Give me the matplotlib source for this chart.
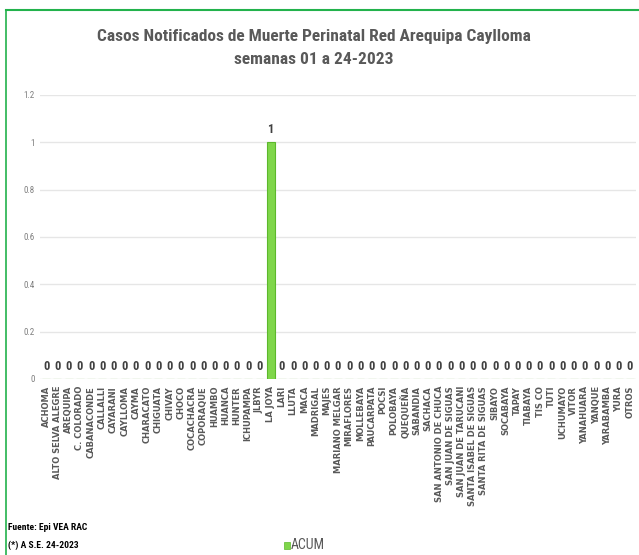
import matplotlib
matplotlib.use("Agg")
import matplotlib.pyplot as plt
from matplotlib.patches import Rectangle

categories = ["ACHOMA", "ALTO SELVA ALEGRE", "AREQUIPA", "C. COLORADO", "CABANACONDE",
              "CALLALLI", "CAYARANI", "CAYLLOMA", "CAYMA", "CHARACATO", "CHIGUATA",
              "CHIVAY", "CHOCO", "COCACHACRA", "COPORAQUE", "HUAMBO", "HUANCA", "HUNTER",
              "ICHUPAMPA", "JLBYR", "LA JOYA", "LARI", "LLUTA", "MACA", "MADRIGAL", "MAJES",
              "MARIANO MELGAR", "MIRAFLORES", "MOLLEBAYA", "PAUCARPATA", "POCSI", "POLOBAYA",
              "QUEQUEÑA", "SABANDIA", "SACHACA", "SAN ANTONIO DE CHUCA", "SAN JUAN DE SIGUAS",
              "SAN JUAN DE TARUCANI", "SANTA ISABEL DE SIGUAS", "SANTA RITA DE SIGUAS",
              "SIBAYO", "SOCABAYA", "TAPAY", "TIABAYA", "TIS CO", "TUTI", "UCHUMAYO", "VITOR",
              "YANAHUARA", "YANQUE", "YARABAMBA", "YURA", "OTROS"]
acum = [0] * 20 + [1] + [0] * 32
yticks = [0, 0.2, 0.4, 0.6, 0.8, 1, 1.2]
ytick_labels = ["0", "0.2", "0.4", "0.6", "0.8", "1", "1.2"]

narrow = ["Roboto Condensed", "DejaVu Sans"]

fig = plt.figure(figsize=(6.39, 5.55), dpi=100)
ax = fig.add_axes([40/639, 1-379/555, 596/639, 284/555])

x = list(range(len(categories)))
ax.bar(x, acum, width=0.7, color="#7FD64A", edgecolor="#5CB82C", linewidth=0.8, zorder=3)
for xi, v in zip(x, acum):
    ax.text(xi, v + 0.025, f"{v}", ha="center", va="bottom", fontsize=9,
            family=narrow, color="#404040", fontweight="bold")

ax.set_ylim(0, 1.2)
ax.set_xlim(-0.55, len(categories) - 0.45)
ax.set_yticks(yticks)
ax.set_yticklabels(ytick_labels, family=narrow, fontsize=6.5, color="#7F7F7F")
ax.set_xticks(x)
ax.set_xticklabels(categories, rotation=90, fontsize=6.0, fontweight="bold",
                   color="#595959", family="DejaVu Sans")
ax.tick_params(axis="both", length=0, pad=4)
ax.tick_params(axis="x", pad=5)
ax.grid(axis="y", color="#E6E6E6", linewidth=1, zorder=0)
for s in ax.spines.values():
    s.set_visible(False)

fig.text(314/639, 1-36/555, "Casos Notificados de Muerte Perinatal Red Arequipa Caylloma",
         ha="center", va="center", fontsize=12.5, family=narrow, color="#595959", fontweight="bold")
fig.text(314/639, 1-60/555, "semanas 01 a 24-2023",
         ha="center", va="center", fontsize=12.5, family=narrow, color="#595959", fontweight="bold")

fig.text(8/639, 1-528/555, "Fuente: Epi VEA RAC", ha="left", va="center", fontsize=6.8,
         family=narrow, color="#000000", fontweight="bold")
fig.text(8/639, 1-545/555, "(*) A S.E. 24-2023", ha="left", va="center", fontsize=6.8,
         family=narrow, color="#000000", fontweight="bold")

fig.patches.append(Rectangle((284/639, 1-549/555), 6/639, 7/555, transform=fig.transFigure,
                             facecolor="#7FD64A", edgecolor="#5CB82C", linewidth=0.5))
fig.text(291/639, 1-545/555, "ACUM", ha="left", va="center", fontsize=10,
         family=narrow, color="#595959")

# green frame (top and left)
fig.add_artist(plt.Line2D([6/639, 1], [1-10/555, 1-10/555], transform=fig.transFigure,
                          color="#22B24C", linewidth=1.5))
fig.add_artist(plt.Line2D([6/639, 6/639], [0, 1-10/555], transform=fig.transFigure,
                          color="#22B24C", linewidth=1.2))

fig.savefig("out.png", dpi=100)
